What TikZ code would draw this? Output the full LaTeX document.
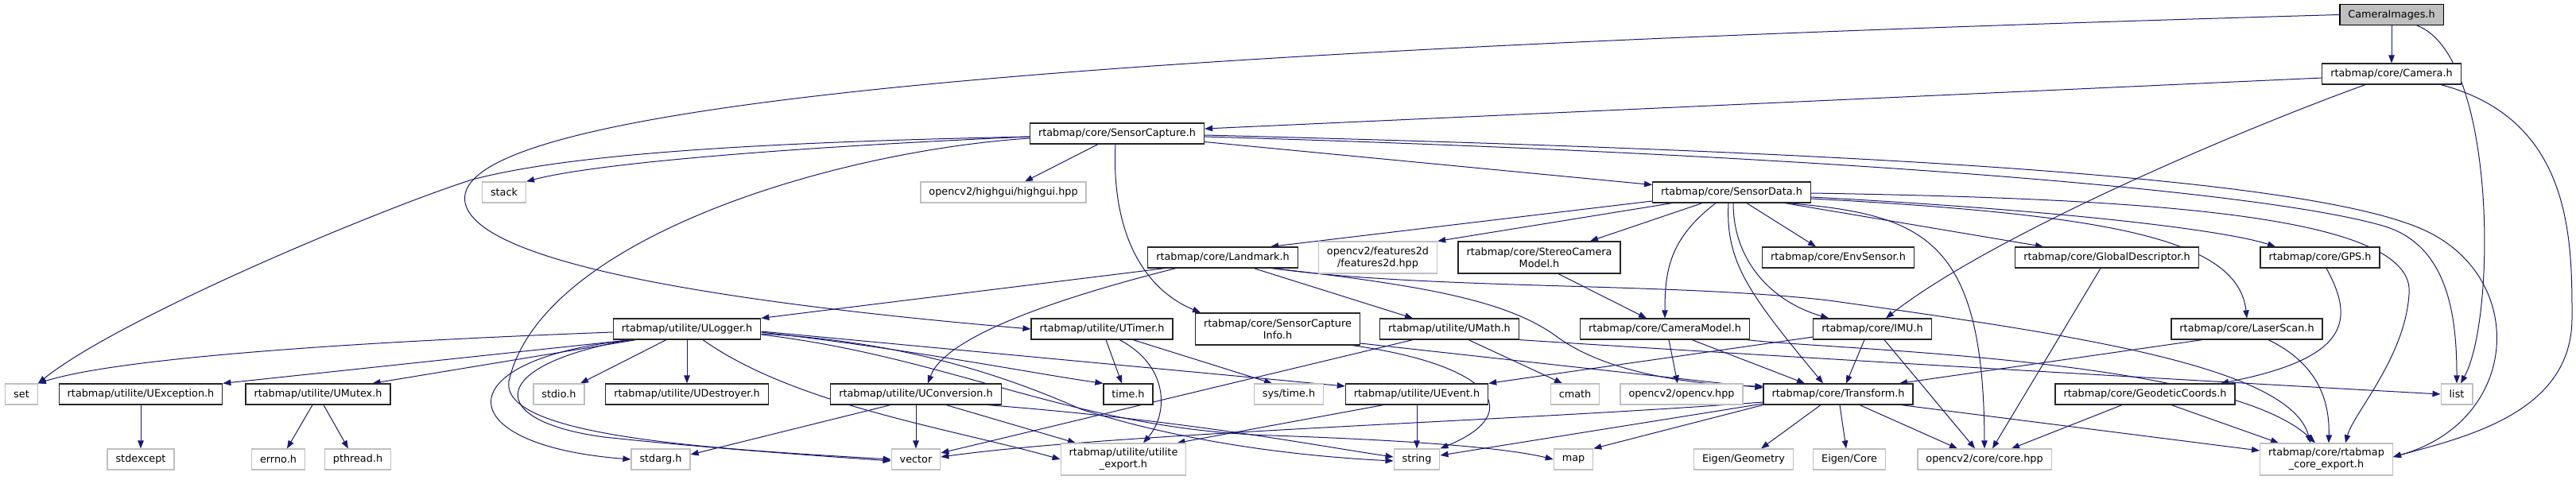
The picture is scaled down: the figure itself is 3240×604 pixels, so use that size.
\documentclass[tikz,border=0pt]{standalone}
\usepackage{fontspec}
\setmainfont{DejaVu Sans}
\usetikzlibrary{arrows.meta}
\usetikzlibrary{backgrounds}
\definecolor{edgeblue}{HTML}{191970}

\begin{document}
\begin{tikzpicture}[x=1pt, y=1pt,
        file/.style={rectangle, inner xsep=10.5pt, inner ysep=2pt, minimum height=26pt, line width=1.2pt, align=center, font=\fontsize{12.8}{15}\selectfont},
        mainfile/.style={file, draw=black, fill=gray!50},
        docfile/.style={file, draw=black!85, fill=white},
        extfile/.style={file, draw=black!25, fill=white},
        twolines/.style={minimum height=40pt},
        incl/.style={draw=edgeblue, line width=1pt, -{Triangle[length=10pt, width=7.5pt]}}]
        \useasboundingbox (0, 0) rectangle (3240, -604);

        % Files, row by row
        \node[mainfile] (cameraimages) at (3008, -18.5) {CameraImages.h};
        \node[docfile] (camera) at (3008, -93) {rtabmap/core/Camera.h};
        \node[docfile] (sensorcapture) at (1405, -168) {rtabmap/core/SensorCapture.h};

        \node[extfile] (stack) at (634, -242) {stack};
        \node[extfile] (highgui) at (1262, -242) {opencv2/highgui/highgui.hpp};
        \node[docfile] (sensordata) at (2178, -242) {rtabmap/core/SensorData.h};

        \node[docfile] (landmark) at (1538, -324) {rtabmap/core/Landmark.h};
        \node[extfile, twolines] (features2d) at (1733, -324) {opencv2/features2d\\/features2d.hpp};
        \node[docfile, twolines] (stereo) at (1936, -324) {rtabmap/core/StereoCamera\\Model.h};
        \node[docfile] (envsensor) at (2312, -324) {rtabmap/core/EnvSensor.h};
        \node[docfile] (globaldesc) at (2650, -324) {rtabmap/core/GlobalDescriptor.h};
        \node[docfile] (gps) at (2918, -324) {rtabmap/core/GPS.h};

        \node[docfile] (ulogger) at (864, -414) {rtabmap/utilite/ULogger.h};
        \node[docfile] (utimer) at (1386, -414) {rtabmap/utilite/UTimer.h};
        \node[docfile, twolines] (captureinfo) at (1607, -414) {rtabmap/core/SensorCapture\\Info.h};
        \node[docfile] (umath) at (1823, -414) {rtabmap/utilite/UMath.h};
        \node[docfile] (cameramodel) at (2094, -414) {rtabmap/core/CameraModel.h};
        \node[docfile] (imu) at (2355, -414) {rtabmap/core/IMU.h};
        \node[docfile] (laserscan) at (2826, -414) {rtabmap/core/LaserScan.h};

        \node[extfile] (set) at (27, -496) {set};
        \node[docfile] (uexception) at (177, -496) {rtabmap/utilite/UException.h};
        \node[docfile] (umutex) at (400, -496) {rtabmap/utilite/UMutex.h};
        \node[extfile] (stdio) at (703, -496) {stdio.h};
        \node[docfile] (udestroyer) at (864, -496) {rtabmap/utilite/UDestroyer.h};
        \node[docfile] (uconversion) at (1152, -496) {rtabmap/utilite/UConversion.h};
        \node[docfile] (timeh) at (1419, -496) {time.h};
        \node[extfile] (systime) at (1621, -496) {sys/time.h};
        \node[docfile] (uevent) at (1782, -496) {rtabmap/utilite/UEvent.h};
        \node[extfile] (cmath) at (1981, -496) {cmath};
        \node[extfile] (opencv) at (2115, -496) {opencv2/opencv.hpp};
        \node[docfile] (transform) at (2312, -496) {rtabmap/core/Transform.h};
        \node[docfile] (geodetic) at (2698, -496) {rtabmap/core/GeodeticCoords.h};
        \node[extfile] (list) at (3090, -496) {list};

        \node[extfile] (stdexcept) at (177, -578) {stdexcept};
        \node[extfile] (errno) at (350, -578) {errno.h};
        \node[extfile] (pthread) at (450, -578) {pthread.h};
        \node[extfile] (stdarg) at (831, -578) {stdarg.h};
        \node[extfile] (vector) at (1152, -578) {vector};
        \node[extfile, twolines] (utiliteexport) at (1413, -578) {rtabmap/utilite/utilite\\\_export.h};
        \node[extfile] (string) at (1782, -578) {string};
        \node[extfile] (map) at (1979, -578) {map};
        \node[extfile] (eigengeom) at (2193, -578) {Eigen/Geometry};
        \node[extfile] (eigencore) at (2326, -578) {Eigen/Core};
        \node[extfile] (corehpp) at (2496, -578) {opencv2/core/core.hpp};
        \node[extfile, twolines] (coreexport) at (2926, -578) {rtabmap/core/rtabmap\\\_core\_export.h};

        \begin{scope}[on background layer]
            % CameraImages.h and Camera.h
            \draw[incl] (cameraimages) -- (camera);
            \draw[incl] (cameraimages.west) .. controls (1500, -60) and (560, -120) .. (585, -255) .. controls (600, -330) and (900, -380) .. (utimer.west);
            \draw[incl] ([xshift=32pt]cameraimages.south) .. controls (3140, -70) and (3140, -400) .. ([xshift=5pt]list.north);
            \draw[incl] ([yshift=-5pt]camera.west) -- ([yshift=6pt]sensorcapture.east);
            \draw[incl] ([xshift=-33pt]camera.south) .. controls (2800, -170) and (2500, -300) .. ([xshift=17pt]imu.north);
            \draw[incl] ([xshift=62pt]camera.south) .. controls (3235, -150) and (3235, -300) .. (3235, -400) .. controls (3235, -520) and (3100, -550) .. ([yshift=3pt]coreexport.east);

            % SensorCapture.h
            \draw[incl] ([yshift=-4pt]sensorcapture.west) .. controls (1000, -185) and (750, -205) .. (stack.north east);
            \draw[incl] ([yshift=-4pt]sensorcapture.west) .. controls (900, -180) and (700, -198) .. (594, -226) .. controls (480, -262) and (150, -400) .. (set.north east);
            \draw[incl] ([yshift=-6pt]sensorcapture.west) .. controls (1050, -190) and (680, -300) .. (640, -480) .. controls (630, -550) and (900, -565) .. (vector.west);
            \draw[incl] ([xshift=-24pt]sensorcapture.south) -- ([xshift=27pt]highgui.north);
            \draw[incl] ([xshift=-2pt]sensorcapture.south) .. controls (1398, -280) and (1430, -360) .. ([xshift=-97pt]captureinfo.north);
            \draw[incl] (sensorcapture) -- (sensordata);
            \draw[incl] ([yshift=-2pt]sensorcapture.east) .. controls (2300, -190) and (2900, -220) .. (3050, -290) .. controls (3180, -350) and (3170, -530) .. ([yshift=3pt]coreexport.east);
            \draw[incl] ([yshift=-4pt]sensorcapture.east) .. controls (2300, -195) and (2850, -240) .. (3000, -285) .. controls (3080, -310) and (3090, -400) .. (list.north);

            % SensorData.h
            \draw[incl] ([yshift=-11pt]sensordata.west) -- ([xshift=60pt]landmark.north);
            \draw[incl] ([xshift=-75pt]sensordata.south) -- (features2d.north east);
            \draw[incl] ([xshift=-37pt]sensordata.south) -- ([xshift=64pt]stereo.north);
            \draw[incl] ([xshift=-20pt]sensordata.south) .. controls (2100, -300) and (2094, -340) .. (cameramodel.north);
            \draw[incl] ([xshift=-4pt]sensordata.south) .. controls (2170, -330) and (2200, -370) .. ([xshift=-19pt]transform.north);
            \draw[incl] ([xshift=2pt]sensordata.south) .. controls (2180, -330) and (2230, -380) .. ([xshift=-55pt]imu.north);
            \draw[incl] ([xshift=19pt]sensordata.south) -- ([xshift=-28pt]envsensor.north);
            \draw[incl] ([xshift=67pt]sensordata.south) -- ([xshift=-80pt]globaldesc.north);
            \draw[incl] ([yshift=-6pt]sensordata.east) .. controls (2600, -265) and (2800, -290) .. ([xshift=-56pt]gps.north);
            \draw[incl] ([yshift=-8pt]sensordata.east) .. controls (2650, -270) and (2815, -300) .. (laserscan.north);
            \draw[incl] ([xshift=70pt]sensordata.south) .. controls (2420, -270) and (2495, -300) .. (corehpp.north);
            \draw[incl] ([yshift=-1pt]sensordata.east) .. controls (2700, -250) and (3040, -270) .. (3030, -370) .. controls (3025, -450) and (2960, -520) .. ([xshift=24pt]coreexport.north);

            % Landmark.h
            \draw[incl] ([xshift=-73pt]landmark.south) -- (ulogger.north east);
            \draw[incl] ([xshift=-59pt]landmark.south) .. controls (1350, -370) and (1190, -420) .. ([xshift=15pt]uconversion.north);
            \draw[incl] ([xshift=39pt]landmark.south) -- ([xshift=-46pt]umath.north);
            \draw[incl] ([xshift=62pt]landmark.south) .. controls (1800, -360) and (1900, -380) .. (1960, -425) .. controls (2030, -475) and (2150, -485) .. ([yshift=10pt]transform.west);
            \draw[incl] ([xshift=62pt]landmark.south) .. controls (1800, -365) and (2100, -355) .. (2300, -378) .. controls (2600, -420) and (2880, -460) .. ([xshift=-20pt]coreexport.north);

            % ULogger.h
            \draw[incl] ([yshift=-4pt]ulogger.west) .. controls (450, -430) and (150, -450) .. (set.north east);
            \draw[incl] ([xshift=-70pt]ulogger.south) -- (uexception.north east);
            \draw[incl] ([xshift=-64pt]ulogger.south) -- ([xshift=-23pt]umutex.north east);
            \draw[incl] ([xshift=-26pt]ulogger.south) -- ([xshift=27pt]stdio.north);
            \draw[incl] (ulogger) -- (udestroyer);
            \draw[incl] ([xshift=-67pt]ulogger.south) .. controls (560, -450) and (560, -560) .. (stdarg.west);
            \draw[incl] ([xshift=-72pt]ulogger.south) .. controls (610, -460) and (610, -530) .. (760, -550) .. controls (900, -565) and (1050, -575) .. ([yshift=-2pt]vector.west);
            \draw[incl] ([yshift=-3pt]ulogger.east) -- ([yshift=10pt]uevent.west);
            \draw[incl] ([yshift=-4pt]ulogger.east) .. controls (1150, -440) and (1300, -470) .. (timeh.north west);
            \draw[incl] ([yshift=-6pt]ulogger.east) .. controls (1150, -430) and (1280, -480) .. (1360, -515) .. controls (1500, -560) and (1650, -575) .. ([yshift=-2pt]string.west);
            \draw[incl] ([yshift=-7pt]ulogger.east) .. controls (1200, -450) and (1350, -540) .. (1600, -548) .. controls (1800, -555) and (1900, -565) .. (map.west);
            \draw[incl] ([xshift=20pt]ulogger.south) .. controls (1000, -510) and (1200, -540) .. (utiliteexport.west);

            % UTimer.h and SensorCaptureInfo.h
            \draw[incl] ([xshift=5pt]utimer.south) -- ([xshift=-8pt]timeh.north);
            \draw[incl] ([xshift=39pt]utimer.south) -- ([xshift=-21pt]systime.north);
            \draw[incl] ([xshift=22pt]utimer.south) .. controls (1470, -460) and (1470, -520) .. ([xshift=25pt]utiliteexport.north);
            \draw[incl] ([xshift=-10pt]captureinfo.south east) .. controls (1880, -460) and (1920, -520) .. (string.north east);
            \draw[incl] ([yshift=-18pt]captureinfo.east) -- ([yshift=8pt]transform.west);

            % UMath.h, CameraModel.h, StereoCameraModel.h
            \draw[incl] ([xshift=24pt]umath.south) -- ([xshift=-16pt]cmath.north);
            \draw[incl] ([xshift=-46pt]umath.south) -- ([yshift=8pt]vector.east);
            \draw[incl] (umath.south east) .. controls (2100, -440) and (2600, -470) .. (list.west);
            \draw[incl] ([xshift=5pt]cameramodel.south) -- ([xshift=-5pt]opencv.north);
            \draw[incl] ([xshift=34pt]cameramodel.south) -- ([xshift=-42pt]transform.north);
            \draw[incl] ([xshift=-4pt]cameramodel.south east) .. controls (2300, -440) and (2800, -450) .. ([xshift=-14pt]coreexport.north);
            \draw[incl] ([xshift=24pt]stereo.south) -- ([xshift=-23pt]cameramodel.north);

            % IMU.h, LaserScan.h, GPS.h, GlobalDescriptor.h
            \draw[incl] ([xshift=-10pt]imu.south) -- ([xshift=10pt]transform.north);
            \draw[incl] ([xshift=15pt]imu.south) -- ([xshift=-12pt]corehpp.north);
            \draw[incl] ([yshift=-10pt]imu.west) -- (uevent.north east);
            \draw[incl] ([xshift=-56pt]laserscan.south) -- ([xshift=77pt]transform.north);
            \draw[incl] ([xshift=27pt]laserscan.south) .. controls (2920, -460) and (2930, -510) .. ([xshift=3pt]coreexport.north);
            \draw[incl] ([xshift=8pt]gps.south) .. controls (2960, -400) and (2960, -450) .. ([xshift=95pt]geodetic.north);
            \draw[incl] ([xshift=-8pt]globaldesc.south) -- ([xshift=10pt]corehpp.north);

            % GeodeticCoords.h and Transform.h
            \draw[incl] ([xshift=-29pt]geodetic.south) -- ([xshift=34pt]corehpp.north);
            \draw[incl] ([xshift=33pt]geodetic.south) -- ([xshift=-60pt]coreexport.north);
            \draw[incl] ([xshift=-22pt]transform.south) -- ([xshift=22pt]eigengeom.north);
            \draw[incl] ([xshift=2pt]transform.south) -- ([xshift=-4pt]eigencore.north);
            \draw[incl] ([xshift=27pt]transform.south) -- ([xshift=-34pt]corehpp.north);
            \draw[incl] ([xshift=79pt]transform.south) -- ([yshift=11pt]coreexport.west);
            \draw[incl] ([yshift=-10pt]transform.west) .. controls (1900, -530) and (1400, -545) .. ([yshift=3pt]vector.east);
            \draw[incl] ([yshift=-12pt]transform.west) -- ([yshift=5pt]string.east);
            \draw[incl] (transform.south west) -- (map.north east);

            % utilite headers
            \draw[incl] ([xshift=-32pt]uconversion.south) -- ([yshift=6pt]stdarg.east);
            \draw[incl] (uconversion) -- (vector);
            \draw[incl] ([xshift=38pt]uconversion.south) -- ([xshift=-60pt]utiliteexport.north);
            \draw[incl] ([xshift=90pt]uconversion.south) .. controls (1500, -530) and (1650, -560) .. ([yshift=3pt]string.west);
            \draw[incl] (uevent) -- (string);
            \draw[incl] ([xshift=-42pt]uevent.south) -- ([xshift=-12pt]utiliteexport.north east);
            \draw[incl] (uexception) -- (stdexcept);
            \draw[incl] ([xshift=-7pt]umutex.south) -- ([xshift=11pt]errno.north);
            \draw[incl] ([xshift=7pt]umutex.south) -- ([xshift=-12pt]pthread.north);
        \end{scope}
    \end{tikzpicture}
\end{document}
